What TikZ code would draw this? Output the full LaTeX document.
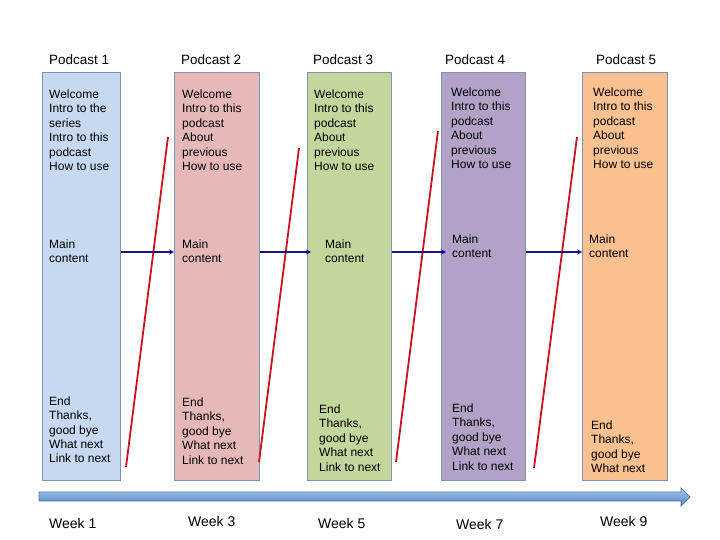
\documentclass[tikz,border=0pt]{standalone}
\usepackage{fontspec}
\setmainfont{Liberation Sans}
\usetikzlibrary{arrows.meta}
\definecolor{cA}{HTML}{C6D9F1}
\definecolor{cB}{HTML}{E6B9B8}
\definecolor{cC}{HTML}{C3D69B}
\definecolor{cD}{HTML}{B3A2C7}
\definecolor{cE}{HTML}{FAC090}
\definecolor{boxline}{HTML}{7F93B2}
\definecolor{redline}{HTML}{C8141E}
\definecolor{navy}{HTML}{14148A}
\definecolor{barTop}{HTML}{A9C6EC}
\definecolor{barBot}{HTML}{4F81BD}
\definecolor{barLine}{HTML}{4A7EBB}
\tikzset{
  podbox/.style={draw=boxline, line width=0.9pt, minimum width=#1, minimum height=408, inner sep=0, anchor=north west},
  podtext/.style={anchor=north west, inner sep=0, align=left, font=\fontsize{12}{14.4}\selectfont, text=black},
  headtext/.style={anchor=base west, inner sep=0, font=\fontsize{13.5}{16}\selectfont},
  weektext/.style={anchor=base west, inner sep=0, font=\fontsize{14}{16}\selectfont},
  redstroke/.style={draw=redline, line width=1.8pt},
  bluearr/.style={draw=navy, line width=1.8pt, -{Stealth[length=5pt,width=5pt]}},
}
\begin{document}
\begin{tikzpicture}[x=1pt,y=-1pt]
\useasboundingbox (0,0) rectangle (720,540);
% boxes
\node[podbox=78, fill=cA] (b1) at (42,72) {};
\node[podbox=85, fill=cB] (b2) at (174,72) {};
\node[podbox=84, fill=cC] (b3) at (307,72) {};
\node[podbox=84, fill=cD] (b4) at (441,72) {};
\node[podbox=85, fill=cE] (b5) at (582,72) {};
% headers
\node[headtext] (h1) at (49,65) {Podcast 1};
\node[headtext] (h2) at (181,65) {Podcast 2};
\node[headtext] (h3) at (313,65) {Podcast 3};
\node[headtext] (h4) at (445,65) {Podcast 4};
\node[headtext] (h5) at (596,65) {Podcast 5};
% box texts
\node[podtext] (t1a) at (49,89.7) {Welcome\\Intro to the\\series\\Intro to this\\podcast\\How to use};
\node[podtext] (t1b) at (49,239.7) {Main\\content};
\node[podtext] (t1c) at (49,396.5) {End\\Thanks,\\good bye\\What next\\Link to next};
\node[podtext] (t2a) at (182,89.7) {Welcome\\Intro to this\\podcast\\About\\previous\\How to use};
\node[podtext] (t2b) at (182,239.7) {Main\\content};
\node[podtext] (t2c) at (182,397.7) {End\\Thanks,\\good bye\\What next\\Link to next};
\node[podtext] (t3a) at (314,89.7) {Welcome\\Intro to this\\podcast\\About\\previous\\How to use};
\node[podtext] (t3b) at (325,239.7) {Main\\content};
\node[podtext] (t3c) at (319,404.7) {End\\Thanks,\\good bye\\What next\\Link to next};
\node[podtext] (t4a) at (451,87.7) {Welcome\\Intro to this\\podcast\\About\\previous\\How to use};
\node[podtext] (t4b) at (452,234.7) {Main\\content};
\node[podtext] (t4c) at (452,403.7) {End\\Thanks,\\good bye\\What next\\Link to next};
\node[podtext] (t5a) at (593,87.7) {Welcome\\Intro to this\\podcast\\About\\previous\\How to use};
\node[podtext] (t5b) at (589,234.7) {Main\\content};
\node[podtext] (t5c) at (591,420.7) {End\\Thanks,\\good bye\\What next};
% red slanted lines
\draw[redstroke] (168,137) -- (126,467);
\draw[redstroke] (299,148) -- (259,462);
\draw[redstroke] (438,131) -- (396,462);
\draw[redstroke] (577,137) -- (534,468);
% blue arrows
\draw[bluearr] (b1.north east |- 0,252) -- (b2.north west |- 0,252);
\draw[bluearr] (b2.north east |- 0,252) -- ([xshift=4]b3.north west |- 0,252);
\draw[bluearr] (b3.north east |- 0,252) -- ([xshift=5]b4.north west |- 0,252);
\draw[bluearr] (b4.north east |- 0,252) -- (b5.north west |- 0,252);
% timeline
\path[draw=barLine, line width=0.7pt, top color=barTop, bottom color=barBot]
  (39,492) -- (681,492) -- (681,488) -- (690,497) -- (681,506) -- (681,501) -- (39,501) -- cycle;
% weeks
\node[weektext] (w1) at (49,528) {Week 1};
\node[weektext] (w3) at (188,526) {Week 3};
\node[weektext] (w5) at (318,528) {Week 5};
\node[weektext] (w7) at (456,529) {Week 7};
\node[weektext] (w9) at (600,526) {Week 9};
\end{tikzpicture}
\end{document}
